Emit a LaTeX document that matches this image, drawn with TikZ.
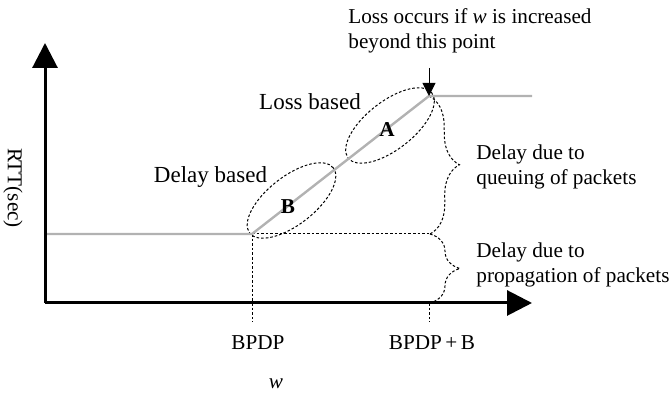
\documentclass[tikz,border=0pt]{standalone}
\usepackage{fontspec}
\setmainfont{Liberation Serif}
\usetikzlibrary{arrows.meta,decorations.pathreplacing}

\tikzset{
  axis/.style={line width=1.5pt, -{Triangle[length=12.5pt,width=12.5pt]}},
  curve/.style={line width=1.2pt, gray!60},
  guide/.style={line width=0.5pt, dash pattern=on 1.3pt off 1pt},
  guidebrace/.style={guide, decorate, decoration={brace, amplitude=15pt}},
  label/.style={font=\fontsize{10.6}{12.5}\selectfont, inner sep=0pt},
  biglabel/.style={font=\fontsize{11.5}{13}\selectfont, inner sep=0pt},
}

\begin{document}
\begin{tikzpicture}[x=0.5pt, y=0.5pt]
    \useasboundingbox (0, 0) rectangle (670, 394);

    \coordinate (origin) at (45, 91);
    \coordinate (ytip) at (45, 351);
    \coordinate (xtip) at (532, 91);
    \coordinate (flatstart) at (45, 160);
    \coordinate (bpdp) at (252, 160);
    \coordinate (peak) at (429, 298);
    \coordinate (flatend) at (532, 298);
    \coordinate (arrowtop) at (429, 326);
    \coordinate (queueend) at (430, 160);
    \coordinate (axisend) at (430, 91);
    \coordinate (bpdpstub) at (252, 72);
    \coordinate (peakaxis) at (429, 91);
    \coordinate (peakstub) at (429, 72);
    \coordinate (ellA) at (390, 268.5);
    \coordinate (ellB) at (291.5, 193.5);

    \draw[guide, rotate around={38:(ellA)}] (ellA) ellipse [x radius=26.5pt, y radius=12pt];
    \draw[guide, rotate around={38:(ellB)}] (ellB) ellipse [x radius=26.5pt, y radius=12pt];

    \draw[guide] (bpdp) -- (queueend);
    \draw[guide] (bpdp) -- (bpdpstub);
    \draw[guide] (peakaxis) -- (peakstub);
    \draw[guidebrace] (peak) -- (queueend);
    \draw[guidebrace] (queueend) -- (axisend);

    \draw[curve] (flatstart) -- (bpdp) -- (peak) -- (flatend);

    \draw[axis] (origin) -- (ytip);
    \draw[axis] (origin) -- (xtip);
    \draw[line width=0.5pt, -{Triangle[length=6.5pt,width=6.5pt]}] (arrowtop) -- (peak);

    \node[label, anchor=west, align=left] (lossnote) at (348, 363.5)
        {Loss occurs if \textit{w} is increased\\beyond this point};
    \node[biglabel] (lossbased) at (310, 292) {Loss based};
    \node[biglabel] (delaybased) at (210.5, 217) {Delay based};
    \node[label, font=\fontsize{10.6}{12.5}\selectfont\bfseries] (labA) at (387, 264) {A};
    \node[label, font=\fontsize{10.6}{12.5}\selectfont\bfseries] (labB) at (288, 187) {B};
    \node[label, anchor=west, align=left] (queuing) at (476, 227.5)
        {Delay due to\\queuing of packets};
    \node[label, anchor=west, align=left] (propagation) at (476, 129.5)
        {Delay due to\\propagation of packets};
    \node[label] (bpdplabel) at (258, 51) {BPDP};
    \node[label] (bpdpblabel) at (432, 51) {BPDP\,+\,B};
    \node[label] (wlabel) at (276, 10) {\textit{w}};
    \node[label, rotate=-90] (rtt) at (13, 206) {RTT(sec)};
\end{tikzpicture}
\end{document}
